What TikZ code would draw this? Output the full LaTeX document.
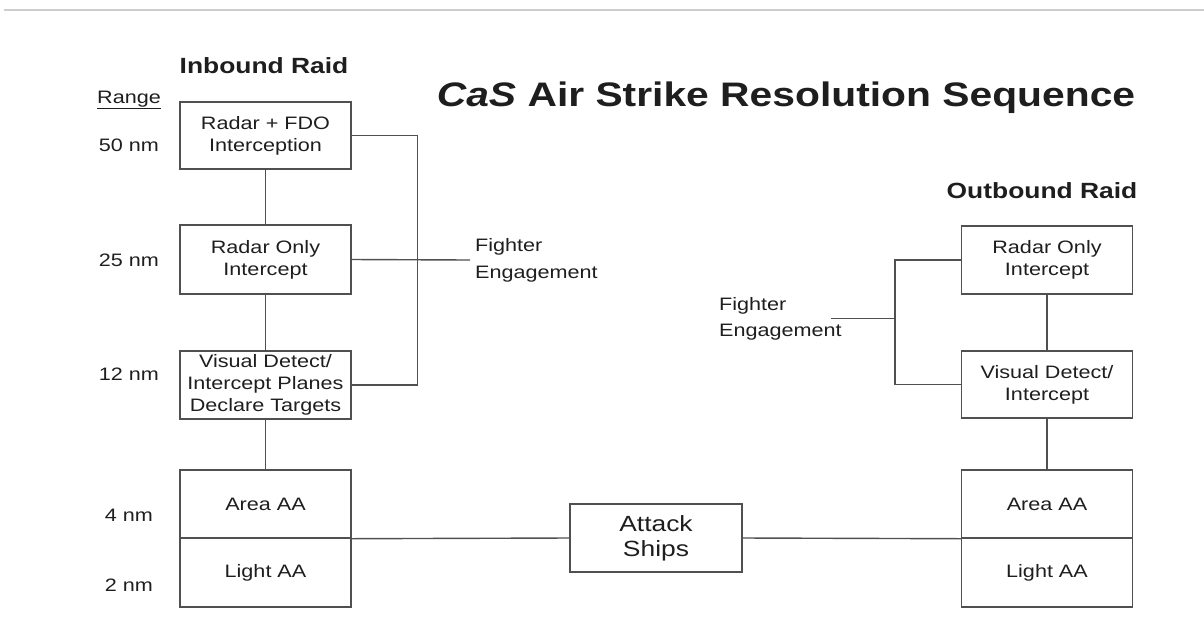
\documentclass[tikz,border=0pt]{standalone}
\usepackage{fontspec}
\setmainfont[FakeStretch=1.2]{Liberation Sans}
\usepackage{tikz}
\usetikzlibrary{shapes,positioning,calc}
\definecolor{linegray}{RGB}{80,80,80}
\definecolor{rulegray}{RGB}{205,205,205}
\definecolor{textblack}{RGB}{30,30,30}
\tikzstyle{fase} = [rectangle, minimum width=171pt, minimum height=68pt, inner sep=0pt, align=center, draw=linegray, line width=1.4pt, text=textblack, font=\fontsize{18}{22}\selectfont]
\tikzstyle{distanza} = [text=textblack, inner sep=0pt, font=\fontsize{18}{22}\selectfont]
\tikzstyle{titolo} = [text=textblack, inner sep=0pt, font=\fontsize{22}{26}\selectfont\bfseries]
\tikzstyle{linea} = [draw=linegray, line width=1.4pt]

\begin{document}
\begin{tikzpicture}[x=1pt,y=-1pt]
						\useasboundingbox (0,0) rectangle (1204,622);
						\draw[rulegray, line width=1.5pt] (4,10) -- (1204,10);
						\node (t0) at (786,98) [text=textblack, inner sep=0pt, font=\fontsize{34}{40}\selectfont\bfseries] {\textit{CaS} Air Strike Resolution Sequence};
						\node (t1) at (264,66) [titolo] {Inbound Raid};
						\node (t2) at (1042,191) [titolo] {Outbound Raid};
						\node (d0) at (129,100) [distanza] {\underline{Range}};
						\node (d1) at (129,145) [distanza] {50 nm};
						\node (d2) at (129,260) [distanza] {25 nm};
						\node (d3) at (129,374) [distanza] {12 nm};
						\node (d4) at (129,515) [distanza] {4 nm};
						\node (d5) at (129,585) [distanza] {2 nm};
						\node (i1) at (265.5,135.5) [fase, minimum height=67pt] {Radar + FDO\\ Interception};
						\node (i2) at (265.5,259.5) [fase, minimum height=69pt] {Radar Only\\ Intercept};
						\node (i3) at (265.5,385) [fase] {Visual Detect/\\ Intercept Planes\\ Declare Targets};
						\node (i4) at (265.5,504) [fase, minimum height=68pt] {Area AA};
						\node (i5) at (265.5,572.5) [fase, minimum height=69pt] {Light AA};
						\node (o1) at (1047,260) [fase] {Radar Only\\ Intercept};
						\node (o2) at (1047,384.5) [fase, minimum height=67pt] {Visual Detect/\\ Intercept};
						\node (o3) at (1047,504) [fase, minimum height=68pt] {Area AA};
						\node (o4) at (1047,572.5) [fase, minimum height=69pt] {Light AA};
						\node (s0) at (656,538) [fase, minimum width=172pt, font=\fontsize{22}{25}\selectfont] {Attack\\ Ships};
						\node (f1) at (475,260) [distanza, anchor=west, align=left, font=\fontsize{18}{27}\selectfont] {Fighter\\ Engagement};
						\node (f2) at (719,318.5) [distanza, anchor=west, align=left, font=\fontsize{18}{26}\selectfont] {Fighter\\ Engagement};
						\coordinate (c1) at (470,260);
						\coordinate (c2) at (831,318.5);

						\draw[linea] (i1) -- (i2);
						\draw[linea] (i2) -- (i3);
						\draw[linea] (i3) -- (i4);
						\draw[linea] (o1) -- (o2);
						\draw[linea] (o2) -- (o3);
						\draw[linea] (i1.east) -- ++(66,0) |- (i3.east);
						\draw[linea] (i2.east) -- (c1);
						\draw[linea] (o1.west) -- ++(-66,0) |- (o2.west);
						\draw[linea] (c2) -- ++(65,0);
						\draw[linea] (i4.south east) -- (s0.west);
						\draw[linea] (s0.east) -- (o3.south west);
					\end{tikzpicture}
\end{document}
